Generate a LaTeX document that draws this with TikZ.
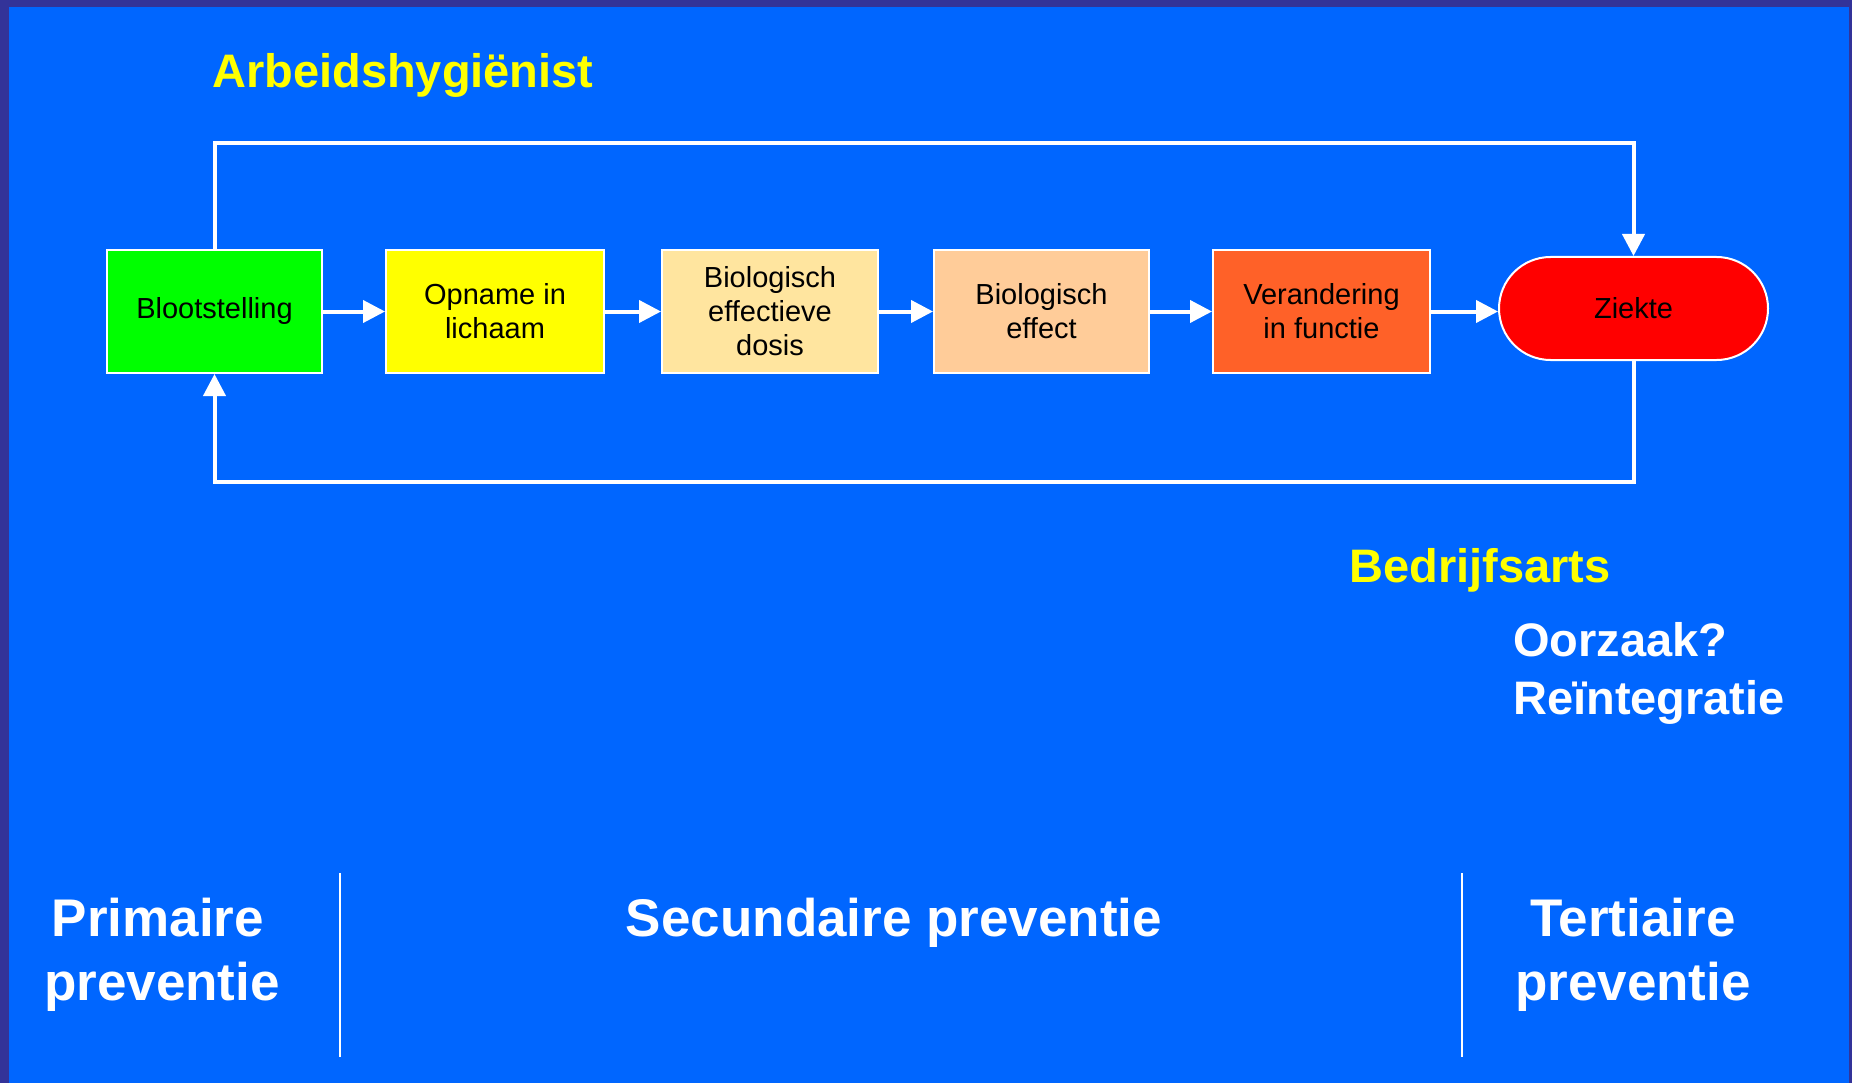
\documentclass[tikz,border=0pt]{standalone}
\usepackage{fontspec}
\setmainfont{Liberation Sans}
\usetikzlibrary{arrows.meta,shapes.misc}
\definecolor{framecol}{HTML}{333399}
\definecolor{bgcol}{HTML}{0066FF}
\definecolor{cgreen}{HTML}{00FF00}
\definecolor{cyellow}{HTML}{FFFF00}
\definecolor{ctan}{HTML}{FFE59F}
\definecolor{cpeach}{HTML}{FFCC99}
\definecolor{corange}{HTML}{FF6128}
\definecolor{cred}{HTML}{FF0000}
\begin{document}
\begin{tikzpicture}[x=1pt,y=-1pt,
  box/.style={draw=white, line width=2pt, minimum height=123pt, inner sep=0pt,
    align=center, text=black, font=\fontsize{29}{34}\selectfont},
  conn/.style={draw=white, line width=4pt, -{Triangle[length=22pt,width=22pt]}},
  role/.style={text=cyellow, font=\fontsize{47}{58}\selectfont\bfseries, inner sep=0pt, anchor=base west},
  note/.style={text=white, font=\fontsize{47}{58}\selectfont\bfseries, inner sep=0pt, anchor=base west},
  prev/.style={text=white, font=\fontsize{53}{64}\selectfont\bfseries, inner sep=0pt, anchor=base},
  divider/.style={draw=white, line width=2pt}]
\useasboundingbox (0,0) rectangle (1852,1083);
\fill[framecol] (0,0) rectangle (1852,1083);
\fill[bgcol] (9,7) rectangle (1849,1083);

% boxes
\node[box, fill=cgreen,  minimum width=215pt] (bl) at (214.5,311.5) {Blootstelling};
\node[box, fill=cyellow, minimum width=218pt] (op) at (495,311.5) {Opname in\\lichaam};
\node[box, fill=ctan,    minimum width=216pt] (bed) at (770,311.5) {Biologisch\\effectieve\\dosis};
\node[box, fill=cpeach,  minimum width=215pt] (be) at (1041.5,311.5) {Biologisch\\effect};
\node[box, fill=corange, minimum width=217pt] (vf) at (1321.5,311.5) {Verandering\\in functie};
\node[draw=white, line width=2pt, fill=cred, rounded rectangle, minimum width=269pt,
  minimum height=103pt, inner sep=0pt, text=black, font=\fontsize{29}{34}\selectfont]
  (zk) at (1633.5,308.5) {Ziekte};

\coordinate (topy) at (0,143);
\coordinate (boty) at (0,482);

% connectors
\draw[conn] (bl.east) -- (op.west);
\draw[conn] (op.east) -- (bed.west);
\draw[conn] (bed.east) -- (be.west);
\draw[conn] (be.east) -- (vf.west);
\draw[conn] (vf.east) -- (vf.east -| zk.west);
\draw[conn] (bl.north) -- (bl.north |- topy) -| (zk.north);
\draw[conn] (zk.south) -- (zk.south |- boty) -| (bl.south);

% role labels
\node[role] (ah) at (212,88) {Arbeidshygiënist};
\node[role] (ba) at (1349,582) {Bedrijfsarts};
\node[note] (oz) at (1513,656) {Oorzaak?};
\node[note] (ri) at (1513,714) {Reïntegratie};

% dividers
\coordinate (d1t) at (340,873);
\coordinate (d1b) at (340,1057);
\coordinate (d2t) at (1462,873);
\coordinate (d2b) at (1462,1057);
\draw[divider] (d1t) -- (d1b);
\draw[divider] (d2t) -- (d2b);

% prevention labels
\node[prev] (p1a) at (158,936) {Primaire};
\node[prev] (p1b) at (162,1000) {preventie};
\node[prev] (p2) at (894,936) {Secundaire preventie};
\node[prev] (p3a) at (1633,936) {Tertiaire};
\node[prev] (p3b) at (1633,1000) {preventie};
\end{tikzpicture}
\end{document}
